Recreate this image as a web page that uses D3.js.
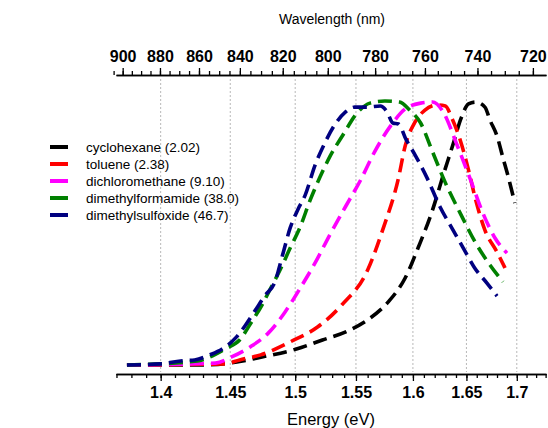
<!DOCTYPE html>
<html>
<head>
<meta charset="utf-8">
<script src="https://cdn.jsdelivr.net/npm/d3@7"></script>
<style>
  body { margin: 0; background: #fff; }
  text { font-family: Arial, "Liberation Sans", sans-serif; }
  .axis path, .axis line { stroke: #000; stroke-width: 1.3px; }
  .axis text { font-size: 16px; font-weight: bold; fill: #000; }
  .grid { stroke: #b8b8b8; stroke-width: 1px; stroke-dasharray: 2,2; }
</style>
</head>
<body>
<script>
/////////////////////////////// data (energy in eV, normalized intensity)
var seriesNames = [
  "cyclohexane (2.02)",
  "toluene (2.38)",
  "dichloromethane (9.10)",
  "dimethylformamide (38.0)",
  "dimethylsulfoxide (46.7)",
];
var seriesColors = ["#000000", "#ff0000", "#ff00ff", "#008000", "#000080"];

var cyclohexaneE = [1.377, 1.428, 1.455, 1.474, 1.501, 1.522, 1.543, 1.560, 1.578, 1.593, 1.605, 1.618, 1.628, 1.637, 1.645, 1.652, 1.659, 1.668, 1.673, 1.680, 1.686, 1.690, 1.698];
var cyclohexaneI = [0.004, 0.004, 0.015, 0.034, 0.064, 0.098, 0.132, 0.174, 0.242, 0.332, 0.449, 0.589, 0.721, 0.834, 0.936, 0.989, 0.996, 0.977, 0.928, 0.868, 0.785, 0.732, 0.615];

var tolueneE = [1.377, 1.446, 1.457, 1.473, 1.496, 1.518, 1.538, 1.560, 1.573, 1.587, 1.593, 1.602, 1.611, 1.622, 1.630, 1.636, 1.644, 1.652, 1.659, 1.668, 1.680, 1.688];
var tolueneI = [0.004, 0.008, 0.023, 0.042, 0.091, 0.147, 0.230, 0.362, 0.513, 0.709, 0.830, 0.921, 0.966, 0.985, 0.981, 0.936, 0.853, 0.740, 0.626, 0.513, 0.430, 0.370];

var dichloromethaneE = [1.377, 1.439, 1.451, 1.465, 1.479, 1.492, 1.504, 1.516, 1.528, 1.541, 1.554, 1.566, 1.580, 1.593, 1.607, 1.618, 1.628, 1.641, 1.654, 1.666, 1.678, 1.690];
var dichloromethaneI = [0.004, 0.011, 0.034, 0.072, 0.125, 0.204, 0.294, 0.389, 0.494, 0.600, 0.702, 0.808, 0.906, 0.970, 0.992, 0.996, 0.958, 0.834, 0.702, 0.577, 0.483, 0.426];

var dimethylformamideE = [1.377, 1.426, 1.435, 1.446, 1.457, 1.466, 1.474, 1.480, 1.488, 1.496, 1.504, 1.512, 1.520, 1.528, 1.539, 1.551, 1.562, 1.575, 1.588, 1.597, 1.607, 1.618, 1.630, 1.644, 1.659, 1.673, 1.686];
var dimethylformamideI = [0.004, 0.019, 0.034, 0.064, 0.098, 0.166, 0.230, 0.287, 0.362, 0.445, 0.525, 0.626, 0.713, 0.789, 0.872, 0.955, 0.992, 1.0, 0.996, 0.966, 0.917, 0.808, 0.691, 0.577, 0.464, 0.381, 0.317];

var dimethylsulfoxideE = [1.377, 1.400, 1.414, 1.424, 1.435, 1.444, 1.454, 1.461, 1.469, 1.476, 1.484, 1.490, 1.496, 1.502, 1.508, 1.516, 1.524, 1.532, 1.541, 1.549, 1.560, 1.571, 1.577, 1.582, 1.587, 1.594, 1.602, 1.613, 1.625, 1.636, 1.647, 1.658, 1.670, 1.680];
var dimethylsulfoxideI = [0.004, 0.008, 0.019, 0.023, 0.042, 0.064, 0.106, 0.151, 0.211, 0.264, 0.317, 0.419, 0.521, 0.589, 0.645, 0.758, 0.842, 0.909, 0.958, 0.977, 0.977, 0.981, 0.958, 0.917, 0.913, 0.853, 0.796, 0.709, 0.600, 0.521, 0.445, 0.370, 0.313, 0.264];

var energyTicks = [1.4, 1.45, 1.5, 1.55, 1.6, 1.65, 1.7];
var wavelengthTicks = [900, 880, 860, 840, 820, 800, 780, 760, 740, 720];

/////////////////////////////// sizes
var width = 548,
  height = 428;
var left = 116,
  right = 546,
  topAxisY = 75,
  bottomAxisY = 374;
var hc = 1239.84; // eV*nm

var svg = d3
  .select("body")
  .append("svg")
  .attr("width", width)
  .attr("height", height);

/////////////////////////////// scales
// bottom energy labels sit on a wavelength-linear scale
var xLam = d3.scaleLinear().domain([905.2, 716.5]).range([left, right]);
function xE(e) {
  return xLam(hc / e);
}
// top wavelength labels sit on an energy-linear scale
var xTop = d3.scaleLinear().domain([1.372, 1.733]).range([left, right]);
var y = d3.scaleLinear().domain([0, 1]).range([366, 101]);

/////////////////////////////// grid
svg
  .selectAll(".grid")
  .data(energyTicks)
  .enter()
  .append("line")
  .attr("class", "grid")
  .attr("x1", (d) => xE(d))
  .attr("x2", (d) => xE(d))
  .attr("y1", topAxisY + 4)
  .attr("y2", bottomAxisY - 2);

/////////////////////////////// bottom axis
var minorE = d3.range(137, 174).map((d) => d / 100);
svg
  .append("g")
  .attr("class", "axis")
  .attr("transform", "translate(0," + bottomAxisY + ")")
  .call(
    d3
      .axisBottom(xLam)
      .tickValues(minorE.map((e) => hc / e))
      .tickSize(4)
      .tickSizeOuter(0)
      .tickFormat("")
  );
svg
  .append("g")
  .attr("class", "axis")
  .attr("transform", "translate(0," + bottomAxisY + ")")
  .call(
    d3
      .axisBottom(xLam)
      .tickValues(energyTicks.map((e) => hc / e))
      .tickSize(7)
      .tickSizeOuter(0)
      .tickPadding(6)
      .tickFormat((v) => d3.format("~g")(Math.round((hc / v) * 100) / 100))
  );

/////////////////////////////// top axis
var minorLam = d3.range(720, 906, 5);
svg
  .append("g")
  .attr("class", "axis")
  .attr("transform", "translate(0," + topAxisY + ")")
  .call(
    d3
      .axisTop(xTop)
      .tickValues(minorLam.map((l) => hc / l))
      .tickSize(4)
      .tickSizeOuter(0)
      .tickFormat("")
  );
svg
  .append("g")
  .attr("class", "axis")
  .attr("transform", "translate(0," + topAxisY + ")")
  .call(
    d3
      .axisTop(xTop)
      .tickValues(wavelengthTicks.map((l) => hc / l))
      .tickSize(7)
      .tickSizeOuter(0)
      .tickPadding(6)
      .tickFormat((v) => Math.round(hc / v))
  );

/////////////////////////////// axis titles
svg
  .append("text")
  .attr("x", 331)
  .attr("y", 425)
  .attr("text-anchor", "middle")
  .style("font-size", "16.5px")
  .text("Energy (eV)");
svg
  .append("text")
  .attr("x", 332)
  .attr("y", 24)
  .attr("text-anchor", "middle")
  .style("font-size", "14px")
  .text("Wavelength (nm)");

/////////////////////////////// curves
var allE = [cyclohexaneE, tolueneE, dichloromethaneE, dimethylformamideE, dimethylsulfoxideE];
var allI = [cyclohexaneI, tolueneI, dichloromethaneI, dimethylformamideI, dimethylsulfoxideI];
var series = seriesNames.map(function (name, i) {
  return {
    name: name,
    color: seriesColors[i],
    points: allE[i].map((e, j) => [e, allI[i][j]]),
  };
});

var line = d3
  .line()
  .x((d) => xE(d[0]))
  .y((d) => y(d[1]))
  .curve(d3.curveMonotoneX);

svg
  .selectAll(".curve")
  .data(series)
  .enter()
  .append("path")
  .attr("class", "curve")
  .attr("d", (d) => line(d.points))
  .attr("fill", "none")
  .attr("stroke", (d) => d.color)
  .attr("stroke-width", 3.6)
  .attr("stroke-dasharray", "14,7");

/////////////////////////////// legend
var legend = svg
  .selectAll(".legend")
  .data(series)
  .enter()
  .append("g")
  .attr("class", "legend")
  .attr("transform", (d, i) => "translate(50," + (147 + i * 17) + ")");
legend
  .append("line")
  .attr("x1", 0)
  .attr("x2", 18)
  .attr("stroke", (d) => d.color)
  .attr("stroke-width", 4);
legend
  .append("text")
  .attr("x", 36)
  .attr("dy", "0.35em")
  .style("font-size", "13.5px")
  .text((d) => d.name);
</script>
</body>
</html>
